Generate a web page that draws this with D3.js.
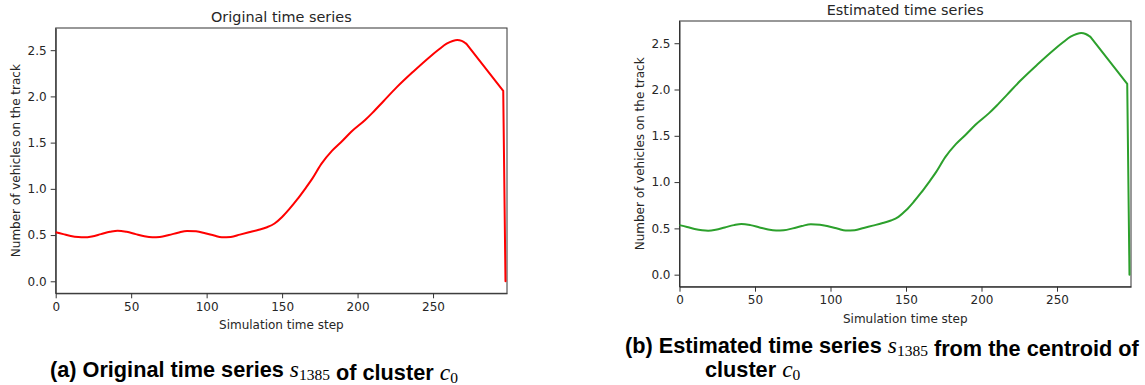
<!DOCTYPE html>
<html lang="en">
<head>
  <meta charset="UTF-8">
  <title>Original vs estimated time series</title>
  <script src="https://d3js.org/d3.v7.min.js"></script>
  <style>
    body { margin: 0; background: #fff; }
    .tick text { font-family: "DejaVu Sans", sans-serif; font-size: 12px; fill: #262626; }
    .tick line, .domain { stroke: #333; }
    .plot-title, .axis-label { font-family: "DejaVu Sans", sans-serif; fill: #262626; text-anchor: middle; }
    .plot-title { font-size: 14.4px; }
    .axis-label { font-size: 12px; }
    .caption { font-family: "Liberation Sans", Arial, sans-serif; font-weight: bold; font-size: 21.7px; fill: #000; white-space: pre; }
    .math { font-family: "Liberation Serif", serif; font-weight: normal; }
  </style>
</head>
<body>
<div id="chart"></div>
<script>
  // time steps and number of vehicles
  const steps = [0, 5, 10, 15, 19, 24, 30, 36, 41, 47, 53, 58, 64, 69, 75, 81, 87, 93, 99, 105,
    110, 116, 122, 128, 134, 140, 145, 150, 155, 160, 165, 170, 176, 183, 190, 196, 205, 210, 217,
    226, 237, 248, 254, 259, 263, 266, 269, 272, 296.5, 298];
  const originalValues = [0.53, 0.51, 0.49, 0.478, 0.475, 0.485, 0.51, 0.535, 0.548, 0.535, 0.51, 0.49,
    0.476, 0.48, 0.50, 0.525, 0.545, 0.54, 0.52, 0.495, 0.476, 0.48, 0.505, 0.53, 0.555, 0.585, 0.625,
    0.695, 0.785, 0.885, 0.995, 1.11, 1.27, 1.41, 1.52, 1.62, 1.745, 1.825, 1.945, 2.10, 2.27, 2.43, 2.51,
    2.57, 2.60, 2.61, 2.60, 2.57, 2.06, 0.0];
  const estimatedValues = [0.535, 0.515, 0.493, 0.479, 0.475, 0.485, 0.51, 0.535, 0.548, 0.535, 0.51, 0.49,
    0.476, 0.48, 0.50, 0.525, 0.545, 0.54, 0.52, 0.495, 0.476, 0.48, 0.505, 0.53, 0.555, 0.585, 0.625,
    0.695, 0.785, 0.885, 0.995, 1.11, 1.27, 1.41, 1.52, 1.62, 1.745, 1.825, 1.945, 2.10, 2.27, 2.43, 2.51,
    2.57, 2.60, 2.61, 2.60, 2.57, 2.06, 0.0];
  const xTicks = [0, 50, 100, 150, 200, 250];
  const yTicks = [0, 0.5, 1.0, 1.5, 2.0, 2.5];
  const cornerStep = 272; // curve turns into straight segments here

  const svg = d3.select("#chart").append("svg")
    .attr("width", 1145)
    .attr("height", 385);

  function drawPanel(opts) {
    const x = d3.scaleLinear().domain([0, 299]).range([opts.left, opts.right]);
    const y = d3.scaleLinear().domain([-0.13, 2.74]).range([opts.bottom, opts.top]);
    const g = svg.append("g");

    g.append("g")
      .attr("transform", `translate(0,${opts.bottom})`)
      .call(d3.axisBottom(x).tickValues(xTicks).tickSize(5).tickPadding(4).tickSizeOuter(0));
    g.append("g")
      .attr("transform", `translate(${opts.left},0)`)
      .call(d3.axisLeft(y).tickValues(yTicks).tickFormat(d3.format(".1f")).tickSize(5).tickPadding(4).tickSizeOuter(0));

    // frame
    g.append("rect")
      .attr("x", opts.left).attr("y", opts.top)
      .attr("width", opts.right - opts.left).attr("height", opts.bottom - opts.top)
      .attr("fill", "none").attr("stroke", "#333");

    const data = steps.map((s, i) => ({ t: s, v: opts.values[i] }));
    const smooth = data.filter(d => d.t <= cornerStep);
    const tail = data.filter(d => d.t >= cornerStep);

    g.append("path")
      .datum(smooth)
      .attr("fill", "none")
      .attr("stroke", opts.color)
      .attr("stroke-width", 2)
      .attr("d", d3.line().x(d => x(d.t)).y(d => y(d.v)).curve(d3.curveMonotoneX));
    g.append("path")
      .datum(tail)
      .attr("fill", "none")
      .attr("stroke", opts.color)
      .attr("stroke-width", 2)
      .attr("stroke-linejoin", "round")
      .attr("stroke-linecap", "round")
      .attr("d", d3.line().x(d => x(d.t)).y(d => y(d.v)));

    g.append("text").attr("class", "plot-title")
      .attr("x", (opts.left + opts.right) / 2).attr("y", opts.top - 6)
      .text(opts.title);
    g.append("text").attr("class", "axis-label")
      .attr("x", (opts.left + opts.right) / 2).attr("y", opts.bottom + 36)
      .text("Simulation time step");
    g.append("text").attr("class", "axis-label")
      .attr("transform", `translate(${opts.left - 36},${(opts.top + opts.bottom) / 2}) rotate(-90)`)
      .text("Number of vehicles on the track");
  }

  drawPanel({ left: 55.7, right: 507, top: 28, bottom: 293.3, values: originalValues,
    color: "#ff0000", title: "Original time series" });
  drawPanel({ left: 679.5, right: 1131, top: 21, bottom: 286.7, values: estimatedValues,
    color: "#2ca02c", title: "Estimated time series" });

  // captions
  function caption(x, y, parts) {
    const t = svg.append("text").attr("class", "caption").attr("x", x).attr("y", y);
    parts.forEach(p => {
      if (p.math) {
        t.append("tspan").attr("class", "math").attr("font-style", "italic").attr("font-size", "23.5px").text(p.math);
        t.append("tspan").attr("class", "math").attr("font-size", "15.5px").attr("dy", 3).text(p.sub);
        t.append("tspan").attr("dy", -3).text("");
      } else {
        t.append("tspan").text(p.text);
      }
    });
  }
  caption(50, 377, [{ text: "(a) Original time series " }, { math: "s", sub: "1385" }, { text: " of cluster " }, { math: "c", sub: "0" }]);
  caption(625, 353, [{ text: "(b) Estimated time series " }, { math: "s", sub: "1385" }, { text: " from the centroid of" }]);
  caption(705, 377, [{ text: "cluster " }, { math: "c", sub: "0" }]);
</script>
</body>
</html>
